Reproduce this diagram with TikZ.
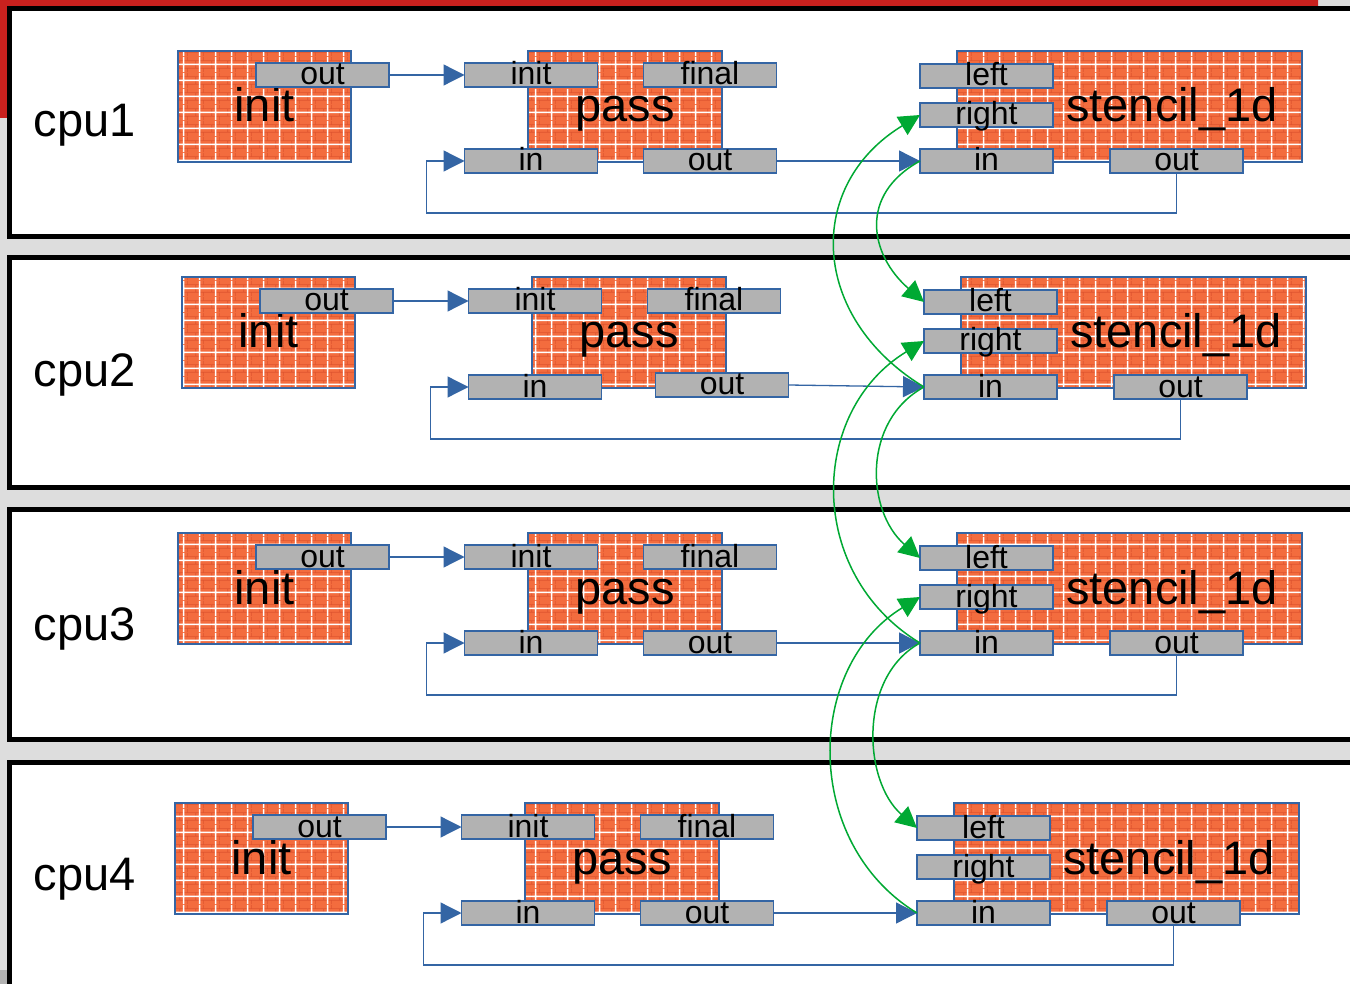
\documentclass[tikz,border=0pt]{standalone}
\usepackage{fontspec}
\setmainfont{Liberation Sans}
\usetikzlibrary{arrows.meta,patterns.meta}

\definecolor{barred}{RGB}{201,33,30}
\definecolor{bggray}{RGB}{221,221,221}
\definecolor{flowblue}{RGB}{52,101,164}
\definecolor{portgray}{RGB}{178,178,178}
\definecolor{brickorange}{RGB}{243,108,62}
\definecolor{brickdark}{RGB}{222,84,48}
\definecolor{halogreen}{RGB}{0,169,51}

% small bricks with a white mortar grid on top
\tikzdeclarepattern{
  name=brickwall,
  type=colored,
  bounding box={(0pt,0pt) and (16pt,16pt)},
  tile size={(16pt,16pt)},
  code={
    \draw[brickdark, line width=0.7pt] (0pt,4pt) -- (16pt,4pt) (0pt,12pt) -- (16pt,12pt)
      (4pt,4pt) -- (4pt,12pt) (12pt,0pt) -- (12pt,4pt) (12pt,12pt) -- (12pt,16pt);
    \draw[white, line width=1.5pt] (0pt,8pt) -- (16pt,8pt) (8pt,0pt) -- (8pt,16pt);
  }
}

\begin{document}
\begin{tikzpicture}[x=1pt, y=-1pt,
    blocktext/.style={font=\fontsize{47}{50}\selectfont, text height=34pt, text depth=3pt},
    block/.style={blocktext, draw=flowblue, line width=1.5pt, preaction={fill=brickorange},
      pattern=brickwall, minimum height=111pt, inner sep=0pt, outer sep=0pt},
    port/.style={draw=flowblue, line width=1.5pt, fill=portgray, minimum width=133pt,
      minimum height=24pt, inner sep=0pt, outer sep=0pt,
      font=\fontsize{32}{34}\selectfont, text height=22pt, text depth=2pt},
    cpu/.style={anchor=base west, font=\fontsize{47}{50}\selectfont},
    flow/.style={draw=flowblue, line width=1.3pt, -{Triangle[length=21pt,width=21pt]}},
    halo/.style={draw=halogreen, line width=1.5pt, -{Triangle[length=21pt,width=21pt]}},
    panel/.style={draw=black, line width=5pt, fill=white}]

    \useasboundingbox (0,0) rectangle (1350,984);
    \clip (0,0) rectangle (1350,984);
    \fill[bggray] (0,0) rectangle (1350,984);
    \fill[barred] (0,0) rectangle (1318,7) (0,0) rectangle (7,118);
    \fill[black!30] (0,970) rectangle (7,984);

    % one panel per cpu
    \foreach \i/\top/\bot/\base in {1/9/237/137, 2/258/487/387, 3/509/739/640, 4/762/1100/890} {
        \draw[panel] (9.5,\top) rectangle (1400,\bot);
        \node[cpu] (cpu\i) at (30,\base) {cpu\i};
    }

    \foreach \i/\dx/\dy/\ox/\oy in {1/0/0/0/0, 2/4/226/8/-2, 3/0/482/0/0, 4/-3/752/0/0} {
        \begin{scope}[shift={(\dx,\dy)}]
            \node[block, minimum width=173pt] (init\i) at (264.5,106.5) {init};
            \node[port] (initout\i) at (322.5,75) {out};

            \node[block, minimum width=194pt] (pass\i) at (625,106.5) {pass};
            \node[port] (passinit\i) at (531,75) {init};
            \node[port] (passfinal\i) at (710,75) {final};
            \node[port] (passin\i) at (531,161) {in};
            \node[port] (passout\i) at (710+\ox,161+\oy) {out};

            \node[block, minimum width=345pt,
                label={[blocktext, xshift=42.5pt]center:stencil\_1d}] (sten\i) at (1129.5,106.5) {};
            \node[port] (stenleft\i) at (986.5,76) {left};
            \node[port] (stenright\i) at (986.5,115) {right};
            \node[port] (stenin\i) at (986.5,161) {in};
            \node[port] (stenout\i) at (1176.5,161) {out};
        \end{scope}

        \draw[flow] (initout\i.east) -- (passinit\i.west);
        \draw[flow] (passout\i.east) -- (stenin\i.west);
        \draw[flow] (stenout\i.south) |- ([xshift=-38pt,yshift=-52pt]passin\i.west) |- (passin\i.west);
    }

    % halo exchange between neighbouring cpus
    \foreach \i/\j in {1/2, 2/3, 3/4} {
        \draw[halo] (stenin\i.west) .. controls +(-62,34) and +(-54,-47) .. (stenleft\j.west);
        \draw[halo] (stenin\j.west) .. controls +(-115,-70) and +(-115,70) .. (stenright\i.west);
    }
\end{tikzpicture}
\end{document}
